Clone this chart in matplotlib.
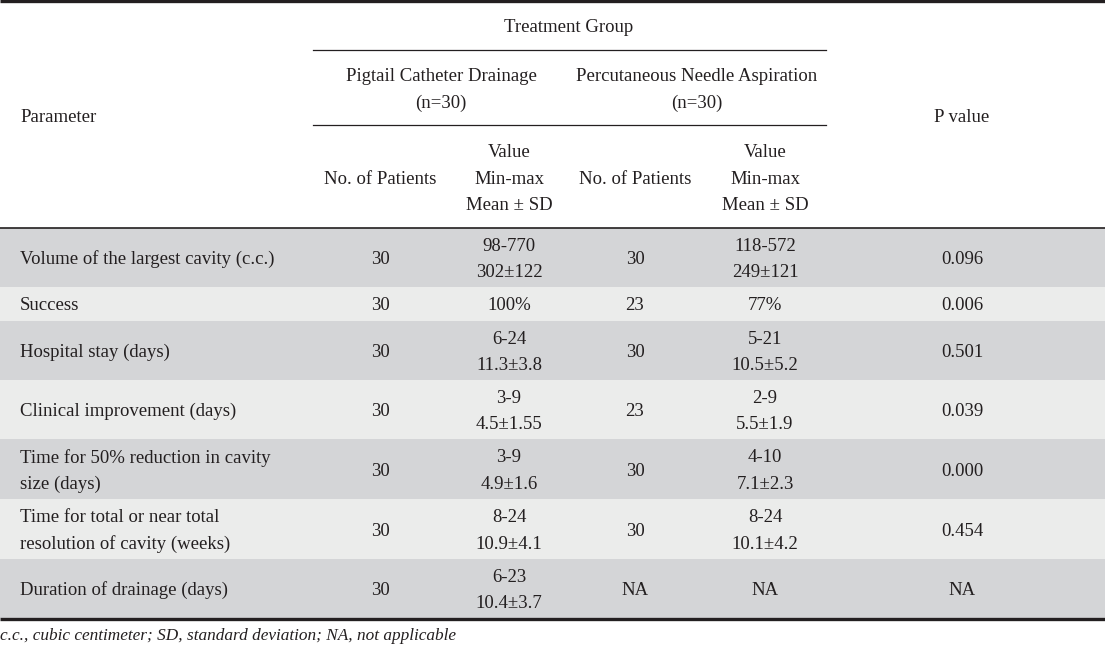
import matplotlib
matplotlib.use("Agg")
import matplotlib.pyplot as plt
from matplotlib.patches import Rectangle

# ---------------- data ----------------
parameters = [
    "Volume of the largest cavity (c.c.)",
    "Success",
    "Hospital stay (days)",
    "Clinical improvement (days)",
    "Time for 50% reduction in cavity\nsize (days)",
    "Time for total or near total\nresolution of cavity (weeks)",
    "Duration of drainage (days)",
]
pcd_patients = ["30", "30", "30", "30", "30", "30", "30"]
pcd_values = ["98-770\n302±122", "100%", "6-24\n11.3±3.8", "3-9\n4.5±1.55",
              "3-9\n4.9±1.6", "8-24\n10.9±4.1", "6-23\n10.4±3.7"]
pna_patients = ["30", "23", "30", "23", "30", "30", "NA"]
pna_values = ["118-572\n249±121", "77%", "5-21\n10.5±5.2", "2-9\n5.5±1.9",
              "4-10\n7.1±2.3", "8-24\n10.1±4.2", "NA"]
p_values = ["0.096", "0.006", "0.501", "0.039", "0.000", "0.454", "NA"]

header_top = "Treatment Group"
group_names = ["Pigtail Catheter Drainage\n(n=30)", "Percutaneous Needle Aspiration\n(n=30)"]
sub_headers = ["No. of Patients", "Value\nMin-max\nMean ± SD"]
footnote = "c.c., cubic centimeter; SD, standard deviation; NA, not applicable"

# ---------------- layout ----------------
W, H = 1105, 645
FONT = "Liberation Serif"
FS = 13.5
TXT = "#231f20"
DARK = "#d4d5d7"
LIGHT = "#ebeceb"
LH = 26.5   # line spacing in pixels
DY = 2.0    # baseline nudge

col_x = {"param": 20, "pcd_n": 380, "pcd_v": 509, "pna_n": 635, "pna_v": 765, "p": 962}
row_edges = [228, 287, 321, 380, 439, 499, 559, 618]

fig = plt.figure(figsize=(W / 100, H / 100), dpi=100)
ax = fig.add_axes([0, 0, 1, 1])
ax.set_xlim(0, W)
ax.set_ylim(H, 0)
ax.axis("off")


def put(x, yc, s, ha="center"):
    lines = s.split("\n")
    n = len(lines)
    for i, ln in enumerate(lines):
        y = yc + (i - (n - 1) / 2) * LH + DY
        ax.text(x, y, ln, ha=ha, va="center", fontsize=FS, family=FONT, color=TXT)


# row backgrounds
for i in range(len(parameters)):
    top, bot = row_edges[i], row_edges[i + 1]
    ax.add_patch(Rectangle((0, top), W, bot - top, color=DARK if i % 2 == 0 else LIGHT,
                           lw=0, zorder=0))

# rules
ax.plot([0, W], [1, 1], color=TXT, lw=2.4, solid_capstyle="butt")
ax.plot([313, 826], [50, 50], color=TXT, lw=0.9)
ax.plot([313, 826], [125, 125], color=TXT, lw=0.9)
ax.plot([0, W], [227.5, 227.5], color=TXT, lw=1.2)
ax.plot([0, W], [619, 619], color=TXT, lw=2.4, solid_capstyle="butt")

# header
put(569, 26, header_top)
put(441, 88, group_names[0])
put(697, 88, group_names[1])
put(col_x["param"], 115, "Parameter", ha="left")
put(col_x["p"], 115, "P value")
put(col_x["pcd_n"], 177, sub_headers[0])
put(col_x["pcd_v"], 177, sub_headers[1])
put(col_x["pna_n"], 177, sub_headers[0])
put(col_x["pna_v"], 177, sub_headers[1])

# body
for i in range(len(parameters)):
    yc = (row_edges[i] + row_edges[i + 1]) / 2
    put(col_x["param"], yc, parameters[i], ha="left")
    put(col_x["pcd_n"], yc, pcd_patients[i])
    put(col_x["pcd_v"], yc, pcd_values[i])
    put(col_x["pna_n"], yc, pna_patients[i])
    put(col_x["pna_v"], yc, pna_values[i])
    put(col_x["p"], yc, p_values[i])

ax.text(0, 634 + DY, footnote, ha="left", va="center", fontsize=12.4, family=FONT,
        style="italic", color=TXT)

fig.savefig("out.png", dpi=100)
